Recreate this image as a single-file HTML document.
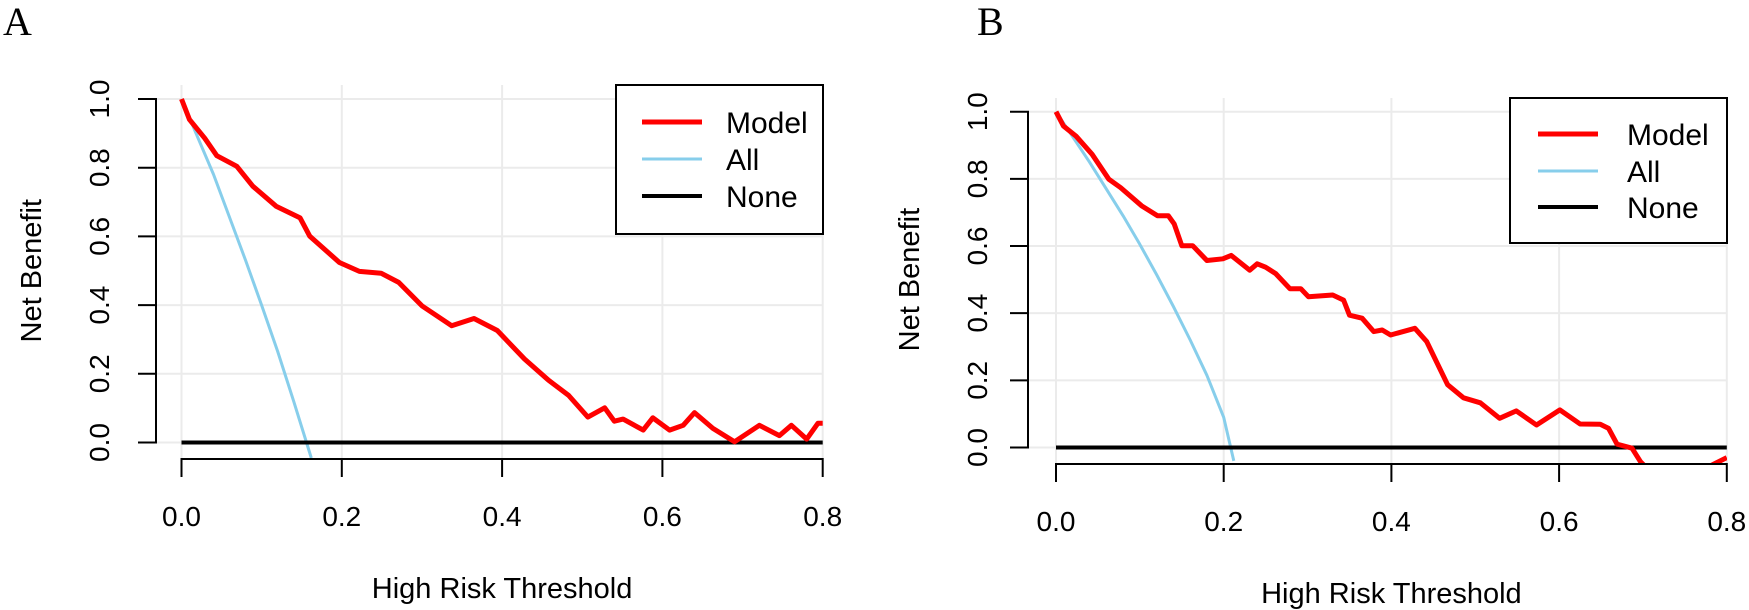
<!DOCTYPE html>
<html><head><meta charset="utf-8">
<style>
html,body{margin:0;padding:0;background:#fff;}
svg{display:block;font-family:"Liberation Sans",Arial,sans-serif;}
</style></head>
<body>
<svg id="fig" width="1749" height="610" viewBox="0 0 1749 610" xmlns="http://www.w3.org/2000/svg">
<text x="3" y="35" font-family="Liberation Serif,serif" font-size="40">A</text>
<text x="977" y="35" font-family="Liberation Serif,serif" font-size="40">B</text>
</svg>
<script>
// ---- Panel A data ----
const ticksX = [0, 0.2, 0.4, 0.6, 0.8];
const tickLabelsX = ["0.0", "0.2", "0.4", "0.6", "0.8"];
const ticksY = [0, 0.2, 0.4, 0.6, 0.8, 1.0];
const tickLabelsY = ["0.0", "0.2", "0.4", "0.6", "0.8", "1.0"];
const legendLabels = ["Model", "All", "None"];

const modelAx = [0, 0.01, 0.029, 0.044, 0.069, 0.089, 0.118, 0.148, 0.16, 0.197, 0.222, 0.249, 0.271, 0.30, 0.337, 0.365, 0.394, 0.428, 0.458, 0.483, 0.507, 0.528, 0.540, 0.551, 0.576, 0.588, 0.609, 0.626, 0.640, 0.663, 0.690, 0.721, 0.746, 0.761, 0.78, 0.794, 0.8];
const modelAy = [1.0, 0.94, 0.886, 0.835, 0.804, 0.746, 0.688, 0.654, 0.601, 0.524, 0.498, 0.493, 0.466, 0.398, 0.34, 0.361, 0.326, 0.243, 0.181, 0.137, 0.074, 0.101, 0.062, 0.068, 0.036, 0.072, 0.036, 0.05, 0.087, 0.041, 0.002, 0.05, 0.02, 0.05, 0.01, 0.056, 0.056];
const allAx = [0, 0.02, 0.04, 0.06, 0.08, 0.1, 0.12, 0.14, 0.156, 0.162];
const allAy = [1.0, 0.89, 0.78, 0.655, 0.53, 0.40, 0.265, 0.12, 0.0, -0.045];
const noneAx = [0, 0.8];
const noneAy = [0, 0];

// ---- Panel B data ----
const modelBx = [0, 0.009, 0.024, 0.043, 0.063, 0.077, 0.102, 0.121, 0.134, 0.141, 0.15, 0.163, 0.18, 0.199, 0.209, 0.231, 0.240, 0.250, 0.262, 0.279, 0.292, 0.301, 0.330, 0.343, 0.350, 0.365, 0.379, 0.389, 0.399, 0.428, 0.442, 0.467, 0.486, 0.506, 0.529, 0.549, 0.573, 0.601, 0.625, 0.649, 0.659, 0.669, 0.687, 0.697, 0.72, 0.76, 0.8];
const modelBy = [1.0, 0.957, 0.927, 0.873, 0.799, 0.774, 0.72, 0.69, 0.69, 0.666, 0.601, 0.601, 0.557, 0.562, 0.572, 0.528, 0.547, 0.537, 0.518, 0.473, 0.473, 0.449, 0.454, 0.439, 0.394, 0.385, 0.345, 0.35, 0.335, 0.355, 0.316, 0.187, 0.148, 0.133, 0.087, 0.109, 0.067, 0.112, 0.070, 0.069, 0.057, 0.010, -0.002, -0.042, -0.1, -0.08, -0.03];
const allBx = [0, 0.02, 0.04, 0.06, 0.08, 0.1, 0.12, 0.14, 0.16, 0.18, 0.2, 0.212];
const allBy = [1.0, 0.925, 0.85, 0.77, 0.69, 0.605, 0.515, 0.42, 0.32, 0.215, 0.09, -0.04];
const noneBx = [0, 0.8];
const noneBy = [0, 0];

const NS = "http://www.w3.org/2000/svg";
const svg = document.getElementById("fig");
function mk(tag, attrs, parent) {
  const e = document.createElementNS(NS, tag);
  for (const k in attrs) e.setAttribute(k, attrs[k]);
  (parent || svg).appendChild(e);
  return e;
}

function panel(cfg) {
  const p = cfg.id;
  const g = mk("g", {});
  
  
  const sx = v => cfg.x0 + v * cfg.xs;
  const sy = v => cfg.y0 - v * cfg.ys;
  const clip = mk("clipPath", {id: p + "-clip"}, g);
  mk("rect", {x: cfg.left, y: cfg.top, width: cfg.right - cfg.left, height: cfg.bottom - cfg.top}, clip);
  ticksX.forEach(t => {
    const l = mk("line", {x1: sx(t), x2: sx(t), y1: cfg.top, y2: cfg.bottom, stroke: "#ebebeb", "stroke-width": 2}, g);
    
    
  });
  ticksY.forEach(t => {
    const l = mk("line", {x1: cfg.left, x2: cfg.right, y1: sy(t), y2: sy(t), stroke: "#ebebeb", "stroke-width": 2}, g);
    
    
  });
  const series = [
    {xs: cfg.allX, ys: cfg.allY, c: "#87ceeb", w: 3, n: "all-line"},
    {xs: cfg.noneX, ys: cfg.noneY, c: "#000", w: 4, n: "none-line"},
    {xs: cfg.modelX, ys: cfg.modelY, c: "#ff0000", w: 5, n: "model-line"}
  ];
  series.forEach(s => {
    const d = s.xs.map((v, i) => (i ? "L" : "M") + sx(v).toFixed(1) + " " + sy(s.ys[i]).toFixed(1)).join(" ");
    const path = mk("path", {d: d, fill: "none", stroke: s.c, "stroke-width": s.w, "stroke-linejoin": "round", "clip-path": "url(#" + p + "-clip)"}, g);
    
    
  });
  const ya = mk("path", {d: `M${cfg.left - 18} ${sy(0)} H${cfg.left} V${sy(1)} H${cfg.left - 18}` + ticksY.slice(1, -1).map(t => ` M${cfg.left - 18} ${sy(t)} H${cfg.left}`).join(""), fill: "none", stroke: "#000", "stroke-width": 2}, g);
  
  
  const xa = mk("path", {d: `M${sx(0)} ${cfg.bottom + 18} V${cfg.bottom} H${sx(0.8)} V${cfg.bottom + 18}` + ticksX.slice(1, -1).map(t => ` M${sx(t)} ${cfg.bottom} V${cfg.bottom + 18}`).join(""), fill: "none", stroke: "#000", "stroke-width": 2}, g);
  
  
  ticksX.forEach((t, i) => {
    const tx = mk("text", {x: sx(t), y: cfg.tickBase, "font-size": 28, "text-anchor": "middle"}, g);
    tx.textContent = tickLabelsX[i];
    
    
  });
  ticksY.forEach((t, i) => {
    const tx = mk("text", {x: cfg.yLabBase, y: sy(t), "font-size": 28, "text-anchor": "middle", transform: `rotate(-90 ${cfg.yLabBase} ${sy(t)})`}, g);
    tx.textContent = tickLabelsY[i];
    
    
  });
  const xt = mk("text", {x: (sx(0) + sx(0.8)) / 2, y: cfg.titleBase, "font-size": 29, "text-anchor": "middle"}, g);
  xt.textContent = "High Risk Threshold";
  
  
  const ymid = (sy(0) + sy(1)) / 2;
  const yt = mk("text", {x: cfg.yTitleBase, y: ymid, "font-size": 29, "text-anchor": "middle", transform: `rotate(-90 ${cfg.yTitleBase} ${ymid})`}, g);
  yt.textContent = "Net Benefit";
  
  
  const L = cfg.leg;
  const lg = mk("g", {}, g);
  
  
  mk("rect", {x: L.x, y: L.y, width: L.w, height: L.h, fill: "#fff", stroke: "#000", "stroke-width": 2}, lg);
  const cols = ["#ff0000", "#87ceeb", "#000"], ws = [5, 3, 4];
  legendLabels.forEach((lab, i) => {
    const ly = L.ly[i];
    const ln = mk("line", {x1: L.lx1, x2: L.lx2, y1: ly, y2: ly, stroke: cols[i], "stroke-width": ws[i]}, lg);
    
    
    const tx = mk("text", {x: L.tx, y: ly + 11, "font-size": 30}, lg);
    tx.textContent = lab;
    
    
  });
}

panel({id: "a", x0: 181.5, xs: 801.5, y0: 442.5, ys: 343.5, left: 156, right: 823, top: 85, bottom: 459,
  modelX: modelAx, modelY: modelAy, allX: allAx, allY: allAy, noneX: noneAx, noneY: noneAy,
  tickBase: 526, titleBase: 598, yLabBase: 109, yTitleBase: 41,
  leg: {x: 616, y: 85, w: 207, h: 149, lx1: 642, lx2: 702, ly: [122, 159, 196], tx: 726}});
panel({id: "b", x0: 1056, xs: 838.5, y0: 447.5, ys: 335.8, left: 1028, right: 1727, top: 98, bottom: 464,
  modelX: modelBx, modelY: modelBy, allX: allBx, allY: allBy, noneX: noneBx, noneY: noneBy,
  tickBase: 531, titleBase: 603, yLabBase: 987, yTitleBase: 919,
  leg: {x: 1510, y: 98, w: 217, h: 145, lx1: 1538, lx2: 1598, ly: [134, 171, 207], tx: 1627}});
</script>
</body></html>
